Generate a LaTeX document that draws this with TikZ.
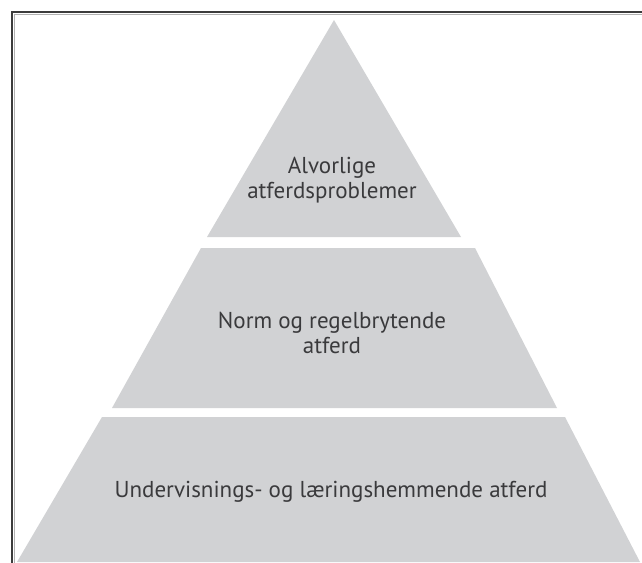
\documentclass[tikz,border=0pt]{standalone}
\usepackage{fontspec}
\setmainfont{PT Sans}
\definecolor{pyr}{HTML}{D1D2D4}
\definecolor{txt}{HTML}{3A3A3C}
\definecolor{framec}{HTML}{3C3C3C}
\begin{document}
\begin{tikzpicture}[x=1pt,y=-1pt,
  lbl/.style={font=\fontsize{23}{25}\selectfont, text=txt, align=center, inner sep=0pt},
  level/.style={fill=pyr}]
\useasboundingbox (0,0) rectangle (642,562);
\fill[white] (0,0) rectangle (642,562);
\begin{scope}
\clip (0,0) rectangle (642,562);
\fill[level] (334,20) -- (461,237) -- (207,237) -- cycle;
\fill[level] (201,248) -- (475,248) -- (557,408) -- (112,408) -- cycle;
\fill[level] (102,417) -- (565,417) -- (640,562) -- (17,562) -- cycle;
\draw[framec, line width=2.2pt] (12,570) -- (12,12) -- (650,12);
\draw[black!30, line width=1pt] (14.6,570) -- (14.6,14.6) -- (650,14.6);
\end{scope}
\node[lbl] (t1) at (332,180) {Alvorlige\\atferdsproblemer};
\node[lbl] (t2) at (332,333) {Norm og regelbrytende\\atferd};
\node[lbl] (t3) at (331,492) {Undervisnings- og læringshemmende atferd};
\end{tikzpicture}
\end{document}
